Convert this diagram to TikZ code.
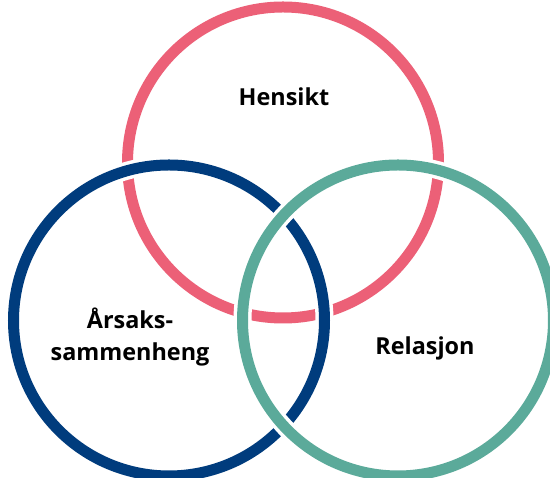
\documentclass[tikz,border=0pt]{standalone}
\usepackage{fontspec}
\setmainfont{Open Sans}
\definecolor{rosa}{HTML}{EC6077}
\definecolor{marine}{HTML}{003C7D}
\definecolor{gronn}{HTML}{5BAA9A}
\begin{document}
\begin{tikzpicture}[
			x=1pt, y=1pt,
			ring/.style = {draw=#1, circle, line width=11pt, minimum size=311pt, inner sep=0pt,
				preaction={draw=white, line width=18pt}},
			label/.style = {align=center, font=\fontsize{23.4}{32}\selectfont\bfseries},
			]
			\useasboundingbox (0,0) rectangle (550,478);
			\node[ring=rosa] (hensikt) at (283,315.5) {};
			\node[ring=marine] (aarsak) at (169,157.5) {};
			\node[ring=gronn] (relasjon) at (398,157.5) {};
			\node[label] (t1) at (284,381) {Hensikt};
			\node[label] (t2) at (130,141) {Årsaks-\\sammenheng};
			\node[label] (t3) at (425,130) {Relasjon};
		\end{tikzpicture}
\end{document}
